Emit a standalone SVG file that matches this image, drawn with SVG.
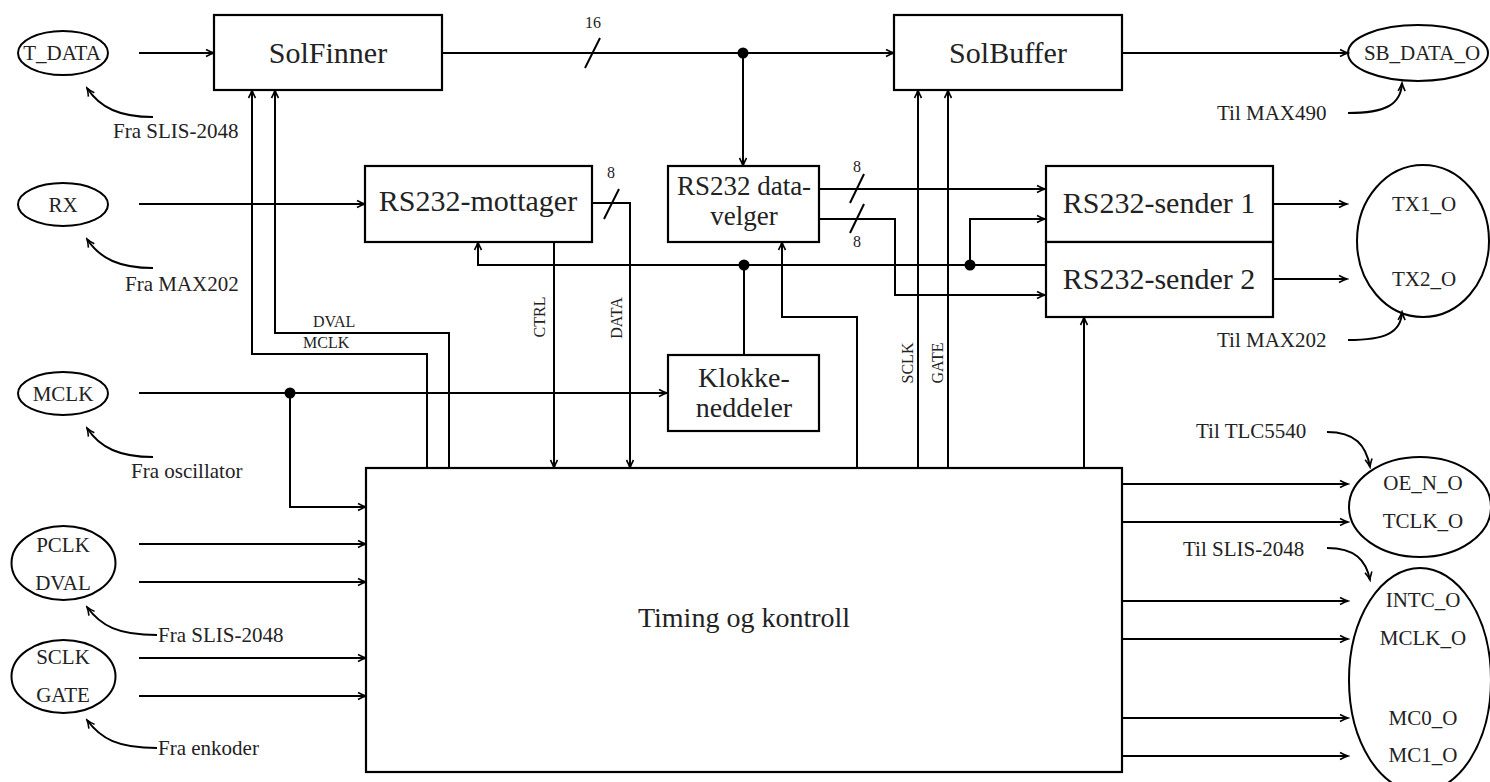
<svg xmlns="http://www.w3.org/2000/svg" width="1490" height="782" viewBox="0 0 1490 782">
<style>
text{font-family:"Liberation Serif","Times New Roman",serif;fill:#222}
.big{font-size:30px;text-anchor:middle}
.mid{font-size:28px;text-anchor:middle}
.dv{font-size:27px;text-anchor:middle}
.sm{font-size:21px}
.c{text-anchor:middle}
.tiny{font-size:16px}
.box{fill:#fff;stroke:#000;stroke-width:2.2}
.ell{fill:none;stroke:#000;stroke-width:2}
.w{fill:none;stroke:#000;stroke-width:2}
.a{marker-end:url(#ah)}
</style>
<defs>
<marker id="ah" markerWidth="12" markerHeight="10" viewBox="-10 -5 12 10" refX="0" refY="0" orient="auto" markerUnits="userSpaceOnUse">
<path d="M-8,-3.5 Q-3,-0.8 0,0 Q-3,0.8 -8,3.5" fill="none" stroke="#000" stroke-width="1.6"/>
</marker>
</defs>
<rect width="1490" height="782" fill="#fff"/>

<g id="connectors">
<path class="w a" d="M139,53 H214"/>
<path class="w a" d="M139,204 H365"/>
<path class="w a" d="M139,393 H667"/>
<path class="w a" d="M290,393 V507 H366"/>
<path class="w a" d="M139,544 H366"/>
<path class="w a" d="M139,582 H366"/>
<path class="w a" d="M139,658 H366"/>
<path class="w a" d="M139,696 H366"/>
<path class="w a" d="M442,53 H894"/>
<path class="w" d="M585,68 L600,38"/>
<text class="tiny c" x="593" y="28">16</text>
<path class="w a" d="M743,53 V166"/>
<path class="w a" d="M427,468 V354 H252 V90"/>
<path class="w a" d="M449,468 V333 H275 V90"/>
<text class="tiny" x="313" y="327">DVAL</text>
<text class="tiny" x="303" y="348">MCLK</text>
<path class="w a" d="M1122,53 H1348"/>
<path class="w a" d="M918,468 V90"/>
<path class="w a" d="M948,468 V90"/>
<text class="tiny c" transform="translate(913,363) rotate(-90)">SCLK</text>
<text class="tiny c" transform="translate(943,363) rotate(-90)">GATE</text>
<path class="w a" d="M592,203 H630 V468"/>
<path class="w" d="M604,219 L619,189"/>
<text class="tiny c" x="611" y="178">8</text>
<path class="w a" d="M554,242 V468"/>
<text class="tiny c" transform="translate(545,317) rotate(-90)">CTRL</text>
<text class="tiny c" transform="translate(622,318) rotate(-90)">DATA</text>
<path class="w a" d="M1045,265 H478 V242"/>
<path class="w" d="M744,265 V355"/>
<path class="w a" d="M970,265 V219 H1045"/>
<path class="w a" d="M819,189 H1045"/>
<path class="w" d="M850,203 L864,174"/>
<text class="tiny c" x="857" y="172">8</text>
<path class="w a" d="M819,219 H895 V295 H1045"/>
<path class="w" d="M850,233 L864,204"/>
<text class="tiny c" x="857" y="247">8</text>
<path class="w a" d="M857,468 V317 H782 V242"/>
<path class="w a" d="M1273,204 H1347"/>
<path class="w a" d="M1273,279 H1347"/>
<path class="w a" d="M1084,468 V317"/>
<path class="w a" d="M1122,484 H1348"/>
<path class="w a" d="M1122,522 H1348"/>
<path class="w a" d="M1122,601 H1348"/>
<path class="w a" d="M1122,639 H1348"/>
<path class="w a" d="M1122,718 H1348"/>
<path class="w a" d="M1122,756 H1348"/>
<circle cx="743" cy="53" r="5.5"/>
<circle cx="744" cy="265" r="5.5"/>
<circle cx="970" cy="265" r="5.5"/>
<circle cx="290" cy="393" r="5.5"/>
<path class="w a" d="M153,117 C120,117 100,108 87,88"/>
<path class="w a" d="M153,268 C120,268 100,259 87,239"/>
<path class="w a" d="M153,457 C120,457 100,448 87,428"/>
<path class="w a" d="M157,635 C118,635 101,626 87,607"/>
<path class="w a" d="M157,748 C118,748 101,739 87,720"/>
<path class="w a" d="M1348,113 C1385,113 1401,105 1402,83"/>
<path class="w a" d="M1348,340 C1385,340 1401,333 1402,312"/>
<path class="w a" d="M1327,432 C1355,432 1366,445 1370,467"/>
<path class="w a" d="M1327,548 C1355,548 1366,560 1370,580"/>
</g>

<g id="labels">
<text class="sm" x="113" y="138">Fra SLIS-2048</text>
<text class="sm" x="125" y="291">Fra MAX202</text>
<text class="sm" x="131" y="478">Fra oscillator</text>
<text class="sm" x="158" y="642">Fra SLIS-2048</text>
<text class="sm" x="158" y="755">Fra enkoder</text>
<text class="sm" x="1217" y="120">Til MAX490</text>
<text class="sm" x="1217" y="347">Til MAX202</text>
<text class="sm" x="1196" y="438">Til TLC5540</text>
<text class="sm" x="1183" y="556">Til SLIS-2048</text>
</g>

<g id="T_DATA"><ellipse class="ell" cx="63" cy="53" rx="45" ry="22"/><text class="sm c" x="62" y="60">T_DATA</text></g>
<g id="RX"><ellipse class="ell" cx="63" cy="204.5" rx="45" ry="21.5"/><text class="sm c" x="63" y="212">RX</text></g>
<g id="MCLK"><ellipse class="ell" cx="63" cy="393.5" rx="45" ry="21.5"/><text class="sm c" x="63" y="401">MCLK</text></g>
<g id="PCLK_DVAL"><ellipse class="ell" cx="63.5" cy="563" rx="52" ry="37"/><text class="sm c" x="63" y="552">PCLK</text><text class="sm c" x="63" y="590">DVAL</text></g>
<g id="SCLK_GATE"><ellipse class="ell" cx="63.5" cy="676.5" rx="52" ry="36.5"/><text class="sm c" x="63" y="664">SCLK</text><text class="sm c" x="63" y="702">GATE</text></g>

<g id="SolFinner"><rect class="box" x="214" y="15" width="228" height="75"/><text class="big" x="328" y="63">SolFinner</text></g>
<g id="SolBuffer"><rect class="box" x="894" y="15" width="228" height="75"/><text class="big" x="1008" y="63">SolBuffer</text></g>
<g id="RS232-mottager"><rect class="box" x="365" y="166" width="227" height="76"/><text class="big" x="478" y="211">RS232-mottager</text></g>
<g id="RS232-datavelger"><rect class="box" x="668" y="166" width="151" height="76"/><text class="dv" x="744" y="195">RS232 data-</text><text class="dv" x="744" y="225">velger</text></g>
<g id="Klokkeneddeler"><rect class="box" x="668" y="355" width="151" height="76"/><text class="mid" x="744" y="387">Klokke-</text><text class="mid" x="744" y="417">neddeler</text></g>
<g id="RS232-sender1"><rect class="box" x="1046" y="166" width="227" height="76"/><text class="big" x="1159" y="213">RS232-sender 1</text></g>
<g id="RS232-sender2"><rect class="box" x="1046" y="242" width="227" height="75"/><text class="big" x="1159" y="289">RS232-sender 2</text></g>
<g id="Timing"><rect class="box" x="366" y="468" width="756" height="304"/><text class="mid" x="744" y="627">Timing og kontroll</text></g>

<g id="SB_DATA_O"><ellipse class="ell" cx="1418" cy="53" rx="70" ry="28"/><text class="sm c" x="1422" y="60">SB_DATA_O</text></g>
<g id="TX"><ellipse class="ell" cx="1423" cy="241" rx="66" ry="76"/><text class="sm c" x="1424" y="211">TX1_O</text><text class="sm c" x="1424" y="286">TX2_O</text></g>
<g id="OE_TCLK"><ellipse class="ell" cx="1420" cy="507" rx="71" ry="50"/><text class="sm c" x="1423" y="490">OE_N_O</text><text class="sm c" x="1423" y="528">TCLK_O</text></g>
<g id="SLIS_out"><ellipse class="ell" cx="1420" cy="680" rx="71" ry="112"/><text class="sm c" x="1423" y="607">INTC_O</text><text class="sm c" x="1423" y="645">MCLK_O</text><text class="sm c" x="1423" y="725">MC0_O</text><text class="sm c" x="1423" y="762">MC1_O</text></g>
</svg>
